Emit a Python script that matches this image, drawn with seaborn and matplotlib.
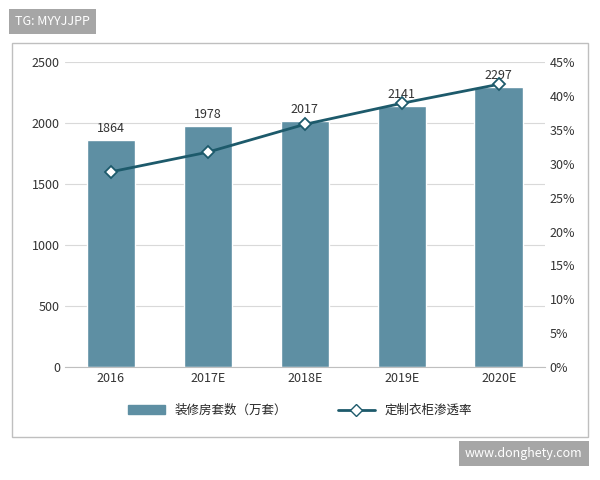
import seaborn as sns
import matplotlib.pyplot as plt
import matplotlib.patches as mpatches
import pandas as pd

years = ['2016', '2017E', '2018E', '2019E', '2020E']
houses = [1864, 1978, 2017, 2141, 2297]
penetration = [28.8, 31.7, 35.8, 38.9, 41.7]

sns.set_style('white')
plt.rcParams['font.family'] = ['Noto Sans CJK SC', 'DejaVu Sans']

bar_color = '#5e8fa3'
line_color = '#1d5a6b'

fig = plt.figure(figsize=(6, 4.8), dpi=100)
ax = fig.add_axes([0.108, 0.235, 0.80, 0.636])

df = pd.DataFrame({'year': years, 'houses': houses, 'pen': penetration})
sns.barplot(data=df, x='year', y='houses', color=bar_color, width=0.5,
            saturation=1, ax=ax)
ax.set_ylim(0, 2500)
ax.set_yticks(range(0, 2501, 500))
ax.set_xlabel('')
ax.set_ylabel('')
ax.yaxis.grid(True, color='#d9d9d9', linewidth=0.8)
ax.set_axisbelow(True)
for s in ['top', 'right', 'left']:
    ax.spines[s].set_visible(False)
ax.spines['bottom'].set_color('#bfbfbf')
ax.tick_params(length=0, labelsize=9, colors='#333333')

ax2 = ax.twinx()
sns.lineplot(data=df, x='year', y='pen', color=line_color, linewidth=2,
             marker='D', markersize=6, markerfacecolor='white',
             markeredgecolor=line_color, markeredgewidth=1.3, ax=ax2)
ax2.set_ylim(0, 45)
ax2.set_yticks(range(0, 46, 5))
ax2.set_yticklabels([f'{v}%' for v in range(0, 46, 5)])
ax2.set_ylabel('')
for s in ax2.spines.values():
    s.set_visible(False)
ax2.tick_params(length=0, labelsize=9, colors='#333333')

for i, v in enumerate(houses):
    ax.text(i, v + 40, str(v), ha='center', va='bottom', fontsize=9, color='#333333', zorder=5)

# legend
handles = [mpatches.Patch(color=bar_color, label='装修房套数（万套）'),
           plt.Line2D([], [], color=line_color, linewidth=2, marker='D', markersize=6,
                      markerfacecolor='white', markeredgecolor=line_color,
                      label='定制衣柜渗透率')]
fig.legend(handles=handles, loc='center', bbox_to_anchor=(0.5, 0.145), ncol=2,
           frameon=False, fontsize=9, handlelength=3, columnspacing=4)

# outer frame
fig.patches.append(mpatches.Rectangle((0.02, 0.09), 0.96, 0.82, transform=fig.transFigure,
                                      fill=False, edgecolor='#bfbfbf', linewidth=1))
fig.text(0.025, 0.955, 'TG: MYYJJPP', fontsize=9, color='white', va='center',
         bbox=dict(boxstyle='square,pad=0.5', facecolor='#a6a6a6', edgecolor='none'))
fig.text(0.775, 0.055, 'www.donghety.com', fontsize=9, color='white', va='center',
         bbox=dict(boxstyle='square,pad=0.5', facecolor='#a6a6a6', edgecolor='none'))

fig.savefig('out.png', dpi=100)
